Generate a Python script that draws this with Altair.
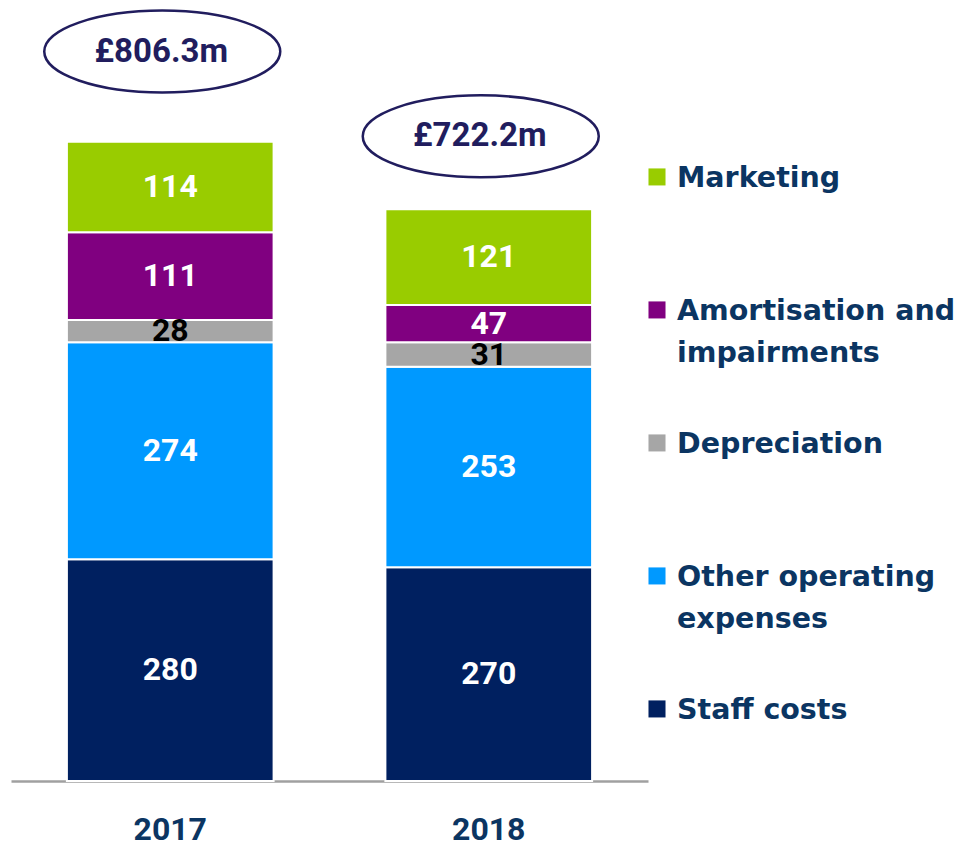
import altair as alt
import pandas as pd

years = ["2017", "2018"]
categories = ["Staff costs", "Other operating expenses", "Depreciation",
              "Amortisation and impairments", "Marketing"]
legend_labels = ["Staff costs", "Other operating\nexpenses", "Depreciation",
                 "Amortisation and\nimpairments", "Marketing"]
values_2017 = [280, 274, 28, 111, 114]
values_2018 = [270, 253, 31, 47, 121]
total_labels = ["£806.3m", "£722.2m"]
colors = ["#002060", "#0099FF", "#A6A6A6", "#800080", "#99CC00"]

NAVY_TXT = "#0B3562"
ELL = "#211D5E"

rows = []
for yr, vals in zip(years, [values_2017, values_2018]):
    for i, (c, v) in enumerate(zip(categories, vals)):
        rows.append({"year": yr, "cat": c, "value": v, "order": i})
df = pd.DataFrame(rows)

tot = pd.DataFrame({
    "year": years,
    "total": [sum(values_2017), sum(values_2018)],
    "label": total_labels,
})

leg = pd.DataFrame({"cat": categories, "label": legend_labels})

xscale = alt.Scale(domain=years, paddingInner=0.351, paddingOuter=0.1755)
yscale = alt.Scale(domain=[0, 976], nice=False, zero=True)
cscale = alt.Scale(domain=categories, range=colors)

xenc = alt.X("year:N", scale=xscale,
             axis=alt.Axis(title=None, labelAngle=0, ticks=False,
                           domainColor="#A0A0A0", domainWidth=2.5,
                           labelFont="Roboto", labelFontWeight="bold",
                           labelFontSize=32, labelColor=NAVY_TXT,
                           labelPadding=33))

base = alt.Chart(df).transform_stack(
    stack="value", as_=["v0", "v1"], groupby=["year"],
    sort=[alt.SortField("order", order="ascending")]
).transform_calculate(mid="(datum.v0 + datum.v1) / 2")

bars = base.mark_bar(stroke="white", strokeWidth=2).encode(
    x=xenc,
    y=alt.Y("v0:Q", scale=yscale, axis=None),
    y2="v1:Q",
    color=alt.Color("cat:N", scale=cscale, legend=None),
)

nums = base.mark_text(font="Roboto", fontWeight="bold", fontSize=32,
                      baseline="middle", align="center").encode(
    x=alt.X("year:N", scale=xscale),
    y=alt.Y("mid:Q", scale=yscale),
    text=alt.Text("value:Q"),
    color=alt.condition(alt.datum.cat == "Depreciation",
                        alt.value("black"), alt.value("white")),
)

k = 0.5523
r = 0.347
ellipse_path = (
    f"M -1 0 C -1 {-k*r:.4f} {-k:.4f} {-r} 0 {-r} "
    f"C {k:.4f} {-r} 1 {-k*r:.4f} 1 0 "
    f"C 1 {k*r:.4f} {k:.4f} {r} 0 {r} "
    f"C {-k:.4f} {r} -1 {k*r:.4f} -1 0 Z"
)

# ellipse sits above the bar top (gap differs per year in the original)
tot_base = alt.Chart(tot).transform_calculate(
    ey="datum.total + (datum.year == '2017' ? 114 : 92)"
)

ell = tot_base.mark_point(
    shape=ellipse_path, filled=False, size=236 * 236, strokeWidth=2.5,
    color=ELL, opacity=1, xOffset=-8, clip=True,
).encode(
    x=alt.X("year:N", scale=xscale),
    y=alt.Y("ey:Q", scale=yscale),
)

ell_txt = tot_base.mark_text(
    font="Roboto", fontWeight="bold", fontSize=33, color=ELL,
    baseline="middle", align="center", xOffset=-9, clip=True,
).encode(
    x=alt.X("year:N", scale=xscale),
    y=alt.Y("ey:Q", scale=yscale),
    text="label:N",
)

main = alt.layer(bars, nums, ell, ell_txt).properties(width=637, height=773)

lyscale = alt.Scale(domain=categories[::-1], type="point",
                    padding=0.906, align=0.701)

leg_sq = alt.Chart(leg).mark_square(size=290, opacity=1).encode(
    x=alt.value(9),
    y=alt.Y("cat:N", scale=lyscale, axis=None),
    color=alt.Color("cat:N", scale=cscale, legend=None),
)

leg_txt = alt.Chart(leg).mark_text(
    font="DejaVu Sans", fontWeight="bold", fontSize=28.5, color=NAVY_TXT,
    align="left", baseline="middle", lineBreak="\n", lineHeight=42, dy=1,
).encode(
    x=alt.value(29),
    y=alt.Y("cat:N", scale=lyscale, axis=None),
    text="label:N",
)

legend = alt.layer(leg_sq, leg_txt).properties(width=300, height=773)

chart = alt.hconcat(main, legend, spacing=0).properties(
    padding={"left": 3, "top": 0, "right": 0, "bottom": 0}
).configure_view(stroke=None)

chart.save("out.html", embed_options={"renderer": "svg", "actions": False})
